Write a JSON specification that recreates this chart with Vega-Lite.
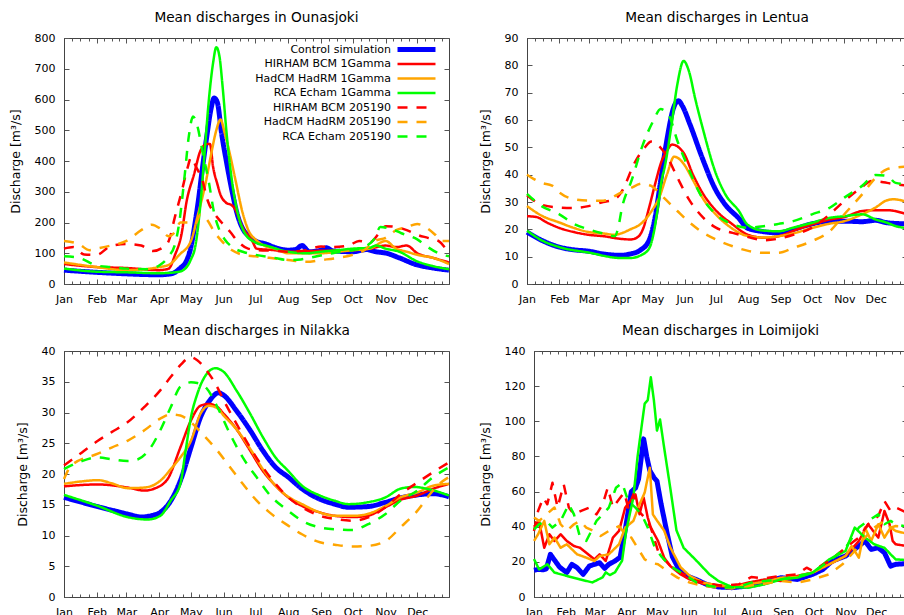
{
"$schema": "https://vega.github.io/schema/vega-lite/v6.json",
"padding": {"left": 8, "top": 10, "right": 0, "bottom": 0},
"background": "white",
"config": {
 "font": "DejaVu Sans",
 "view": {"stroke": "#444", "strokeWidth": 1},
 "axis": {"grid": false, "domainColor": "#444", "tickColor": "#555", "labelFont": "DejaVu Sans", "labelFontSize": 11, "labelColor": "#000", "titleFont": "DejaVu Sans", "titleFontSize": 12.5, "titleFontWeight": "normal", "titleColor": "#000", "titlePadding": 12, "labelOverlap": false, "labelFlush": false},
 "title": {"font": "DejaVu Sans", "fontSize": 13.7, "fontWeight": "normal", "color": "#000", "offset": 7},
 "line": {"strokeJoin": "round"},
 "legend": {"orient": "none", "title": null, "symbolType": "M-6.33,0H6.33", "symbolSize": 36, "labelAlign": "right", "labelOffset": -31, "padding": 0, "rowPadding": 2.5, "gridAlign": "all", "labelFontSize": 11, "labelFont": "DejaVu Sans", "labelColor": "#000"}
},
"datasets": {
"O": [
{"s":"a","d":1,"v":45},{"s":"a","d":32,"v":38},{"s":"a","d":60,"v":33},{"s":"a","d":91,"v":30},{"s":"a","d":100,"v":32},{"s":"a","d":106,"v":38},{"s":"a","d":111,"v":52},{"s":"a","d":116,"v":70},{"s":"a","d":121,"v":120},{"s":"a","d":125,"v":200},{"s":"a","d":128,"v":270},{"s":"a","d":132,"v":380},{"s":"a","d":136,"v":480},{"s":"a","d":140,"v":570},{"s":"a","d":143,"v":605},{"s":"a","d":146,"v":590},{"s":"a","d":150,"v":490},{"s":"a","d":155,"v":390},{"s":"a","d":160,"v":300},{"s":"a","d":165,"v":225},{"s":"a","d":170,"v":180},{"s":"a","d":176,"v":155},{"s":"a","d":182,"v":140},{"s":"a","d":192,"v":130},{"s":"a","d":201,"v":118},{"s":"a","d":213,"v":110},{"s":"a","d":220,"v":112},{"s":"a","d":226,"v":125},{"s":"a","d":233,"v":105},{"s":"a","d":244,"v":110},{"s":"a","d":249,"v":118},{"s":"a","d":255,"v":108},{"s":"a","d":274,"v":105},{"s":"a","d":287,"v":112},{"s":"a","d":296,"v":105},{"s":"a","d":306,"v":100},{"s":"a","d":318,"v":85},{"s":"a","d":334,"v":63},{"s":"a","d":350,"v":52},{"s":"a","d":365,"v":45},
{"s":"b","d":1,"v":65},{"s":"b","d":32,"v":55},{"s":"b","d":60,"v":52},{"s":"b","d":91,"v":45},{"s":"b","d":100,"v":50},{"s":"b","d":106,"v":95},{"s":"b","d":112,"v":160},{"s":"b","d":117,"v":270},{"s":"b","d":124,"v":357},{"s":"b","d":130,"v":433},{"s":"b","d":136,"v":455},{"s":"b","d":139,"v":455},{"s":"b","d":142,"v":380},{"s":"b","d":146,"v":325},{"s":"b","d":149,"v":290},{"s":"b","d":154,"v":265},{"s":"b","d":160,"v":255},{"s":"b","d":163,"v":242},{"s":"b","d":170,"v":183},{"s":"b","d":179,"v":140},{"s":"b","d":183,"v":115},{"s":"b","d":200,"v":110},{"s":"b","d":213,"v":105},{"s":"b","d":244,"v":108},{"s":"b","d":274,"v":110},{"s":"b","d":290,"v":115},{"s":"b","d":305,"v":125},{"s":"b","d":315,"v":120},{"s":"b","d":325,"v":125},{"s":"b","d":335,"v":100},{"s":"b","d":350,"v":85},{"s":"b","d":365,"v":70},
{"s":"c","d":1,"v":70},{"s":"c","d":32,"v":55},{"s":"c","d":60,"v":45},{"s":"c","d":91,"v":55},{"s":"c","d":100,"v":62},{"s":"c","d":110,"v":95},{"s":"c","d":121,"v":140},{"s":"c","d":128,"v":230},{"s":"c","d":135,"v":330},{"s":"c","d":140,"v":420},{"s":"c","d":145,"v":500},{"s":"c","d":149,"v":535},{"s":"c","d":153,"v":490},{"s":"c","d":158,"v":420},{"s":"c","d":163,"v":340},{"s":"c","d":170,"v":230},{"s":"c","d":176,"v":170},{"s":"c","d":182,"v":145},{"s":"c","d":190,"v":125},{"s":"c","d":201,"v":115},{"s":"c","d":213,"v":100},{"s":"c","d":230,"v":100},{"s":"c","d":244,"v":100},{"s":"c","d":260,"v":105},{"s":"c","d":274,"v":110},{"s":"c","d":290,"v":115},{"s":"c","d":305,"v":140},{"s":"c","d":315,"v":115},{"s":"c","d":325,"v":105},{"s":"c","d":335,"v":95},{"s":"c","d":350,"v":85},{"s":"c","d":365,"v":65},
{"s":"d","d":1,"v":50},{"s":"d","d":32,"v":40},{"s":"d","d":60,"v":38},{"s":"d","d":91,"v":35},{"s":"d","d":110,"v":40},{"s":"d","d":118,"v":60},{"s":"d","d":121,"v":80},{"s":"d","d":125,"v":120},{"s":"d","d":130,"v":260},{"s":"d","d":134,"v":430},{"s":"d","d":138,"v":600},{"s":"d","d":142,"v":720},{"s":"d","d":145,"v":770},{"s":"d","d":148,"v":740},{"s":"d","d":151,"v":640},{"s":"d","d":155,"v":480},{"s":"d","d":160,"v":330},{"s":"d","d":166,"v":220},{"s":"d","d":172,"v":165},{"s":"d","d":182,"v":135},{"s":"d","d":192,"v":125},{"s":"d","d":213,"v":105},{"s":"d","d":230,"v":100},{"s":"d","d":244,"v":105},{"s":"d","d":260,"v":110},{"s":"d","d":274,"v":115},{"s":"d","d":290,"v":118},{"s":"d","d":296,"v":125},{"s":"d","d":305,"v":115},{"s":"d","d":318,"v":105},{"s":"d","d":334,"v":75},{"s":"d","d":350,"v":58},{"s":"d","d":365,"v":48},
{"s":"e","d":1,"v":115},{"s":"e","d":10,"v":120},{"s":"e","d":20,"v":96},{"s":"e","d":32,"v":95},{"s":"e","d":45,"v":123},{"s":"e","d":60,"v":130},{"s":"e","d":74,"v":125},{"s":"e","d":85,"v":107},{"s":"e","d":95,"v":120},{"s":"e","d":100,"v":140},{"s":"e","d":106,"v":220},{"s":"e","d":112,"v":297},{"s":"e","d":118,"v":380},{"s":"e","d":121,"v":411},{"s":"e","d":126,"v":380},{"s":"e","d":132,"v":335},{"s":"e","d":137,"v":270},{"s":"e","d":143,"v":230},{"s":"e","d":150,"v":200},{"s":"e","d":158,"v":170},{"s":"e","d":165,"v":140},{"s":"e","d":175,"v":115},{"s":"e","d":185,"v":110},{"s":"e","d":200,"v":108},{"s":"e","d":213,"v":105},{"s":"e","d":230,"v":110},{"s":"e","d":244,"v":122},{"s":"e","d":255,"v":120},{"s":"e","d":270,"v":125},{"s":"e","d":280,"v":140},{"s":"e","d":290,"v":135},{"s":"e","d":300,"v":170},{"s":"e","d":305,"v":188},{"s":"e","d":315,"v":185},{"s":"e","d":325,"v":175},{"s":"e","d":335,"v":160},{"s":"e","d":345,"v":150},{"s":"e","d":355,"v":140},{"s":"e","d":365,"v":100},
{"s":"f","d":1,"v":140},{"s":"f","d":15,"v":130},{"s":"f","d":25,"v":110},{"s":"f","d":32,"v":115},{"s":"f","d":45,"v":125},{"s":"f","d":60,"v":140},{"s":"f","d":74,"v":175},{"s":"f","d":84,"v":193},{"s":"f","d":92,"v":180},{"s":"f","d":100,"v":155},{"s":"f","d":106,"v":170},{"s":"f","d":111,"v":200},{"s":"f","d":118,"v":200},{"s":"f","d":125,"v":195},{"s":"f","d":130,"v":226},{"s":"f","d":136,"v":210},{"s":"f","d":143,"v":170},{"s":"f","d":150,"v":140},{"s":"f","d":160,"v":110},{"s":"f","d":170,"v":95},{"s":"f","d":182,"v":90},{"s":"f","d":195,"v":85},{"s":"f","d":213,"v":78},{"s":"f","d":230,"v":72},{"s":"f","d":244,"v":78},{"s":"f","d":260,"v":85},{"s":"f","d":274,"v":95},{"s":"f","d":285,"v":110},{"s":"f","d":295,"v":140},{"s":"f","d":305,"v":150},{"s":"f","d":315,"v":175},{"s":"f","d":325,"v":185},{"s":"f","d":335,"v":195},{"s":"f","d":345,"v":180},{"s":"f","d":352,"v":160},{"s":"f","d":358,"v":140},{"s":"f","d":365,"v":140},
{"s":"g","d":1,"v":90},{"s":"g","d":15,"v":85},{"s":"g","d":32,"v":60},{"s":"g","d":46,"v":55},{"s":"g","d":60,"v":50},{"s":"g","d":80,"v":48},{"s":"g","d":91,"v":60},{"s":"g","d":100,"v":90},{"s":"g","d":106,"v":130},{"s":"g","d":110,"v":200},{"s":"g","d":115,"v":350},{"s":"g","d":119,"v":480},{"s":"g","d":123,"v":545},{"s":"g","d":127,"v":515},{"s":"g","d":132,"v":430},{"s":"g","d":138,"v":330},{"s":"g","d":143,"v":230},{"s":"g","d":148,"v":175},{"s":"g","d":153,"v":145},{"s":"g","d":160,"v":120},{"s":"g","d":170,"v":105},{"s":"g","d":182,"v":95},{"s":"g","d":200,"v":85},{"s":"g","d":213,"v":78},{"s":"g","d":225,"v":80},{"s":"g","d":240,"v":90},{"s":"g","d":255,"v":100},{"s":"g","d":274,"v":110},{"s":"g","d":285,"v":120},{"s":"g","d":295,"v":150},{"s":"g","d":300,"v":185},{"s":"g","d":310,"v":180},{"s":"g","d":320,"v":165},{"s":"g","d":335,"v":145},{"s":"g","d":345,"v":120},{"s":"g","d":355,"v":100},{"s":"g","d":365,"v":90}
],
"L": [
{"s":"a","d":1,"v":19},{"s":"a","d":15,"v":16},{"s":"a","d":32,"v":13.5},{"s":"a","d":46,"v":12.5},{"s":"a","d":60,"v":12},{"s":"a","d":74,"v":11},{"s":"a","d":91,"v":10.5},{"s":"a","d":100,"v":11},{"s":"a","d":110,"v":12.5},{"s":"a","d":118,"v":16},{"s":"a","d":124,"v":25},{"s":"a","d":128,"v":35},{"s":"a","d":133,"v":48},{"s":"a","d":137,"v":57},{"s":"a","d":141,"v":64},{"s":"a","d":146,"v":67},{"s":"a","d":150,"v":65},{"s":"a","d":157,"v":58.5},{"s":"a","d":169,"v":46},{"s":"a","d":181,"v":35},{"s":"a","d":191,"v":29},{"s":"a","d":204,"v":24},{"s":"a","d":212,"v":20.5},{"s":"a","d":225,"v":19.3},{"s":"a","d":242,"v":18.7},{"s":"a","d":256,"v":20},{"s":"a","d":274,"v":22},{"s":"a","d":291,"v":23},{"s":"a","d":305,"v":23},{"s":"a","d":322,"v":22.8},{"s":"a","d":335,"v":23.3},{"s":"a","d":346,"v":22.4},{"s":"a","d":365,"v":22},
{"s":"b","d":1,"v":24.8},{"s":"b","d":10,"v":24.5},{"s":"b","d":20,"v":22.5},{"s":"b","d":32,"v":20.5},{"s":"b","d":46,"v":19},{"s":"b","d":60,"v":18},{"s":"b","d":74,"v":17.5},{"s":"b","d":91,"v":16.5},{"s":"b","d":100,"v":16.3},{"s":"b","d":105,"v":16.7},{"s":"b","d":112,"v":20},{"s":"b","d":118,"v":28},{"s":"b","d":124,"v":37},{"s":"b","d":130,"v":45},{"s":"b","d":134,"v":48},{"s":"b","d":140,"v":51},{"s":"b","d":151,"v":48},{"s":"b","d":160,"v":40},{"s":"b","d":170,"v":32.8},{"s":"b","d":181,"v":27.3},{"s":"b","d":198,"v":21.8},{"s":"b","d":212,"v":18.1},{"s":"b","d":229,"v":16.9},{"s":"b","d":242,"v":17.5},{"s":"b","d":260,"v":20},{"s":"b","d":274,"v":21.8},{"s":"b","d":291,"v":23.6},{"s":"b","d":305,"v":24.5},{"s":"b","d":322,"v":26.7},{"s":"b","d":335,"v":27},{"s":"b","d":346,"v":27},{"s":"b","d":365,"v":25.5},
{"s":"c","d":1,"v":28.5},{"s":"c","d":15,"v":25},{"s":"c","d":32,"v":22.5},{"s":"c","d":46,"v":20.5},{"s":"c","d":60,"v":19},{"s":"c","d":74,"v":18.5},{"s":"c","d":85,"v":18},{"s":"c","d":91,"v":18.5},{"s":"c","d":100,"v":20},{"s":"c","d":110,"v":22},{"s":"c","d":120,"v":26.5},{"s":"c","d":128,"v":32},{"s":"c","d":135,"v":40},{"s":"c","d":142,"v":46.6},{"s":"c","d":146,"v":46},{"s":"c","d":151,"v":44},{"s":"c","d":160,"v":38},{"s":"c","d":170,"v":31},{"s":"c","d":181,"v":25.8},{"s":"c","d":195,"v":21},{"s":"c","d":212,"v":17.6},{"s":"c","d":228,"v":17},{"s":"c","d":242,"v":17.5},{"s":"c","d":256,"v":18.5},{"s":"c","d":274,"v":20.5},{"s":"c","d":290,"v":22},{"s":"c","d":305,"v":23},{"s":"c","d":322,"v":25.5},{"s":"c","d":335,"v":28},{"s":"c","d":345,"v":30.5},{"s":"c","d":352,"v":31},{"s":"c","d":365,"v":30},
{"s":"d","d":1,"v":19.5},{"s":"d","d":15,"v":16},{"s":"d","d":32,"v":13.5},{"s":"d","d":60,"v":11.5},{"s":"d","d":91,"v":9.5},{"s":"d","d":100,"v":9.5},{"s":"d","d":110,"v":10.5},{"s":"d","d":118,"v":13},{"s":"d","d":122,"v":18},{"s":"d","d":126,"v":27},{"s":"d","d":130,"v":38},{"s":"d","d":133,"v":43},{"s":"d","d":139,"v":57},{"s":"d","d":145,"v":73},{"s":"d","d":151,"v":81.6},{"s":"d","d":156,"v":78},{"s":"d","d":162,"v":68},{"s":"d","d":170,"v":56},{"s":"d","d":181,"v":41.4},{"s":"d","d":191,"v":32.8},{"s":"d","d":204,"v":26.7},{"s":"d","d":212,"v":21.8},{"s":"d","d":226,"v":19.6},{"s":"d","d":242,"v":19.3},{"s":"d","d":256,"v":20.6},{"s":"d","d":274,"v":22.4},{"s":"d","d":291,"v":24.2},{"s":"d","d":305,"v":24.8},{"s":"d","d":322,"v":25.5},{"s":"d","d":335,"v":23.6},{"s":"d","d":346,"v":22.4},{"s":"d","d":354,"v":21.2},{"s":"d","d":365,"v":20.5},
{"s":"e","d":1,"v":32.5},{"s":"e","d":15,"v":29},{"s":"e","d":32,"v":28},{"s":"e","d":46,"v":27.8},{"s":"e","d":60,"v":28.5},{"s":"e","d":74,"v":30},{"s":"e","d":85,"v":31},{"s":"e","d":91,"v":33.4},{"s":"e","d":105,"v":45},{"s":"e","d":114,"v":50},{"s":"e","d":120,"v":52.1},{"s":"e","d":126,"v":51},{"s":"e","d":136,"v":46},{"s":"e","d":145,"v":39},{"s":"e","d":157,"v":30.4},{"s":"e","d":170,"v":24.2},{"s":"e","d":182,"v":20.6},{"s":"e","d":198,"v":18.7},{"s":"e","d":212,"v":17.3},{"s":"e","d":229,"v":16},{"s":"e","d":242,"v":16.6},{"s":"e","d":256,"v":18},{"s":"e","d":274,"v":20.6},{"s":"e","d":291,"v":25.5},{"s":"e","d":305,"v":30.4},{"s":"e","d":322,"v":35.5},{"s":"e","d":331,"v":37.7},{"s":"e","d":346,"v":37},{"s":"e","d":354,"v":36.5},{"s":"e","d":365,"v":36},
{"s":"f","d":1,"v":40},{"s":"f","d":15,"v":37},{"s":"f","d":25,"v":36},{"s":"f","d":32,"v":33.5},{"s":"f","d":46,"v":31},{"s":"f","d":60,"v":30.5},{"s":"f","d":74,"v":30.5},{"s":"f","d":91,"v":33.4},{"s":"f","d":100,"v":35},{"s":"f","d":111,"v":36.7},{"s":"f","d":120,"v":35.9},{"s":"f","d":132,"v":31.6},{"s":"f","d":145,"v":26.7},{"s":"f","d":157,"v":22.4},{"s":"f","d":170,"v":18.7},{"s":"f","d":182,"v":16.3},{"s":"f","d":198,"v":13.8},{"s":"f","d":212,"v":12.2},{"s":"f","d":229,"v":11.4},{"s":"f","d":242,"v":11.4},{"s":"f","d":256,"v":13.2},{"s":"f","d":274,"v":15.7},{"s":"f","d":291,"v":19.3},{"s":"f","d":305,"v":25.5},{"s":"f","d":322,"v":32.8},{"s":"f","d":335,"v":38.9},{"s":"f","d":346,"v":42},{"s":"f","d":354,"v":42.6},{"s":"f","d":365,"v":43},
{"s":"g","d":1,"v":33},{"s":"g","d":15,"v":28.5},{"s":"g","d":32,"v":25.5},{"s":"g","d":46,"v":22},{"s":"g","d":60,"v":20},{"s":"g","d":74,"v":18.5},{"s":"g","d":85,"v":17.5},{"s":"g","d":88,"v":20},{"s":"g","d":92,"v":27.9},{"s":"g","d":101,"v":37.7},{"s":"g","d":112,"v":51},{"s":"g","d":122,"v":59.7},{"s":"g","d":129,"v":64},{"s":"g","d":137,"v":61.6},{"s":"g","d":145,"v":52.4},{"s":"g","d":154,"v":43.8},{"s":"g","d":167,"v":32.8},{"s":"g","d":182,"v":25.5},{"s":"g","d":198,"v":21.8},{"s":"g","d":212,"v":20.6},{"s":"g","d":229,"v":21.2},{"s":"g","d":242,"v":22},{"s":"g","d":256,"v":23},{"s":"g","d":274,"v":25.5},{"s":"g","d":291,"v":27.9},{"s":"g","d":305,"v":31.6},{"s":"g","d":322,"v":35.9},{"s":"g","d":335,"v":39.9},{"s":"g","d":346,"v":39.5},{"s":"g","d":354,"v":37},{"s":"g","d":365,"v":36.5}
],
"N": [
{"s":"a","d":1,"v":16.2},{"s":"a","d":33,"v":14.7},{"s":"a","d":61,"v":13.5},{"s":"a","d":74,"v":13},{"s":"a","d":83,"v":13.2},{"s":"a","d":92,"v":13.75},{"s":"a","d":102,"v":15.65},{"s":"a","d":111,"v":18.9},{"s":"a","d":121,"v":24.3},{"s":"a","d":130,"v":29.2},{"s":"a","d":139,"v":32},{"s":"a","d":147,"v":33.2},{"s":"a","d":152,"v":32.8},{"s":"a","d":164,"v":30.3},{"s":"a","d":177,"v":27.1},{"s":"a","d":189,"v":23.8},{"s":"a","d":201,"v":21.1},{"s":"a","d":213,"v":19.5},{"s":"a","d":226,"v":17.6},{"s":"a","d":243,"v":15.9},{"s":"a","d":257,"v":15.1},{"s":"a","d":270,"v":14.6},{"s":"a","d":288,"v":14.7},{"s":"a","d":305,"v":15.4},{"s":"a","d":319,"v":16.1},{"s":"a","d":335,"v":16.6},{"s":"a","d":350,"v":16.8},{"s":"a","d":365,"v":16.3},
{"s":"b","d":1,"v":18},{"s":"b","d":33,"v":18.3},{"s":"b","d":61,"v":17.8},{"s":"b","d":77,"v":17.3},{"s":"b","d":86,"v":17.6},{"s":"b","d":99,"v":19.2},{"s":"b","d":111,"v":24.3},{"s":"b","d":121,"v":28.7},{"s":"b","d":130,"v":31.1},{"s":"b","d":138,"v":31.4},{"s":"b","d":146,"v":30.9},{"s":"b","d":152,"v":29.8},{"s":"b","d":164,"v":27.3},{"s":"b","d":177,"v":23.8},{"s":"b","d":189,"v":20.5},{"s":"b","d":201,"v":18.1},{"s":"b","d":213,"v":16.2},{"s":"b","d":226,"v":14.8},{"s":"b","d":243,"v":13.75},{"s":"b","d":257,"v":13.2},{"s":"b","d":274,"v":13},{"s":"b","d":288,"v":13.2},{"s":"b","d":305,"v":14.6},{"s":"b","d":319,"v":15.8},{"s":"b","d":335,"v":16.5},{"s":"b","d":350,"v":17.6},{"s":"b","d":365,"v":18.4},
{"s":"c","d":1,"v":18.4},{"s":"c","d":18,"v":18.8},{"s":"c","d":33,"v":19},{"s":"c","d":46,"v":18.5},{"s":"c","d":61,"v":17.7},{"s":"c","d":77,"v":17.8},{"s":"c","d":92,"v":18.9},{"s":"c","d":102,"v":20.8},{"s":"c","d":111,"v":22.7},{"s":"c","d":121,"v":25.4},{"s":"c","d":130,"v":29.8},{"s":"c","d":138,"v":31.1},{"s":"c","d":146,"v":30.7},{"s":"c","d":152,"v":29.5},{"s":"c","d":164,"v":27.3},{"s":"c","d":177,"v":24.1},{"s":"c","d":189,"v":20.8},{"s":"c","d":201,"v":18.1},{"s":"c","d":213,"v":16.3},{"s":"c","d":226,"v":15.1},{"s":"c","d":243,"v":13.75},{"s":"c","d":257,"v":13.2},{"s":"c","d":274,"v":13.2},{"s":"c","d":288,"v":13.5},{"s":"c","d":305,"v":14.8},{"s":"c","d":319,"v":16.2},{"s":"c","d":335,"v":17},{"s":"c","d":350,"v":18.1},{"s":"c","d":365,"v":18.4},
{"s":"d","d":1,"v":16.6},{"s":"d","d":33,"v":14.8},{"s":"d","d":61,"v":13},{"s":"d","d":80,"v":12.6},{"s":"d","d":92,"v":13.2},{"s":"d","d":102,"v":15.7},{"s":"d","d":111,"v":18.4},{"s":"d","d":116,"v":23.8},{"s":"d","d":121,"v":29.2},{"s":"d","d":127,"v":33},{"s":"d","d":133,"v":35.5},{"s":"d","d":144,"v":37.2},{"s":"d","d":152,"v":36.6},{"s":"d","d":164,"v":33.6},{"s":"d","d":177,"v":29.8},{"s":"d","d":189,"v":26},{"s":"d","d":201,"v":22.7},{"s":"d","d":213,"v":20.5},{"s":"d","d":226,"v":18.1},{"s":"d","d":243,"v":16.5},{"s":"d","d":257,"v":15.65},{"s":"d","d":270,"v":15.1},{"s":"d","d":288,"v":15.4},{"s":"d","d":305,"v":16.2},{"s":"d","d":319,"v":17.6},{"s":"d","d":332,"v":17.9},{"s":"d","d":344,"v":17.6},{"s":"d","d":365,"v":16.5},
{"s":"e","d":1,"v":21.4},{"s":"e","d":18,"v":23.5},{"s":"e","d":33,"v":25.4},{"s":"e","d":46,"v":26.8},{"s":"e","d":61,"v":28.4},{"s":"e","d":77,"v":30.9},{"s":"e","d":92,"v":33.6},{"s":"e","d":102,"v":35.8},{"s":"e","d":111,"v":37.7},{"s":"e","d":121,"v":39},{"s":"e","d":127,"v":38.5},{"s":"e","d":136,"v":36.8},{"s":"e","d":146,"v":34.1},{"s":"e","d":152,"v":32},{"s":"e","d":164,"v":28.2},{"s":"e","d":177,"v":24.3},{"s":"e","d":189,"v":21.1},{"s":"e","d":201,"v":18.4},{"s":"e","d":213,"v":16.2},{"s":"e","d":226,"v":14.6},{"s":"e","d":243,"v":13.2},{"s":"e","d":257,"v":12.7},{"s":"e","d":274,"v":12.4},{"s":"e","d":288,"v":12.9},{"s":"e","d":305,"v":14.6},{"s":"e","d":319,"v":16.7},{"s":"e","d":335,"v":18.6},{"s":"e","d":350,"v":20.3},{"s":"e","d":365,"v":21.9},
{"s":"f","d":1,"v":19.2},{"s":"f","d":8,"v":21.4},{"s":"f","d":33,"v":23.3},{"s":"f","d":46,"v":24.3},{"s":"f","d":61,"v":25.4},{"s":"f","d":77,"v":27.1},{"s":"f","d":92,"v":29},{"s":"f","d":102,"v":29.7},{"s":"f","d":111,"v":29.5},{"s":"f","d":121,"v":28.4},{"s":"f","d":133,"v":26.3},{"s":"f","d":146,"v":23.8},{"s":"f","d":158,"v":21.1},{"s":"f","d":170,"v":18.4},{"s":"f","d":183,"v":15.7},{"s":"f","d":195,"v":13.8},{"s":"f","d":213,"v":11.6},{"s":"f","d":226,"v":10.2},{"s":"f","d":243,"v":8.9},{"s":"f","d":257,"v":8.5},{"s":"f","d":274,"v":8.2},{"s":"f","d":288,"v":8.3},{"s":"f","d":305,"v":9.1},{"s":"f","d":319,"v":11.3},{"s":"f","d":335,"v":14},{"s":"f","d":347,"v":16.7},{"s":"f","d":356,"v":18.4},{"s":"f","d":365,"v":19.5},
{"s":"g","d":1,"v":20.8},{"s":"g","d":18,"v":22.1},{"s":"g","d":33,"v":22.7},{"s":"g","d":46,"v":22.4},{"s":"g","d":61,"v":22.1},{"s":"g","d":71,"v":22.4},{"s":"g","d":83,"v":24.3},{"s":"g","d":92,"v":27.1},{"s":"g","d":102,"v":30.9},{"s":"g","d":111,"v":34.2},{"s":"g","d":121,"v":34.9},{"s":"g","d":127,"v":34.8},{"s":"g","d":136,"v":33.9},{"s":"g","d":146,"v":30.9},{"s":"g","d":158,"v":26.5},{"s":"g","d":170,"v":22.7},{"s":"g","d":183,"v":19.5},{"s":"g","d":195,"v":16.7},{"s":"g","d":213,"v":14},{"s":"g","d":226,"v":12.4},{"s":"g","d":243,"v":11.3},{"s":"g","d":257,"v":11},{"s":"g","d":274,"v":10.9},{"s":"g","d":288,"v":11.8},{"s":"g","d":305,"v":13.5},{"s":"g","d":319,"v":15.65},{"s":"g","d":335,"v":17.3},{"s":"g","d":350,"v":19.5},{"s":"g","d":365,"v":21.1}
],
"M": [
{"s":"a","d":1,"v":15.2},{"s":"a","d":5,"v":15.7},{"s":"a","d":10,"v":15.5},{"s":"a","d":13,"v":16},{"s":"a","d":17,"v":24.3},{"s":"a","d":21,"v":21},{"s":"a","d":26,"v":17},{"s":"a","d":33,"v":13.9},{"s":"a","d":38,"v":18.6},{"s":"a","d":43,"v":16.7},{"s":"a","d":49,"v":12.9},{"s":"a","d":55,"v":17.6},{"s":"a","d":60,"v":18.6},{"s":"a","d":65,"v":19.5},{"s":"a","d":70,"v":16.3},{"s":"a","d":74,"v":18.6},{"s":"a","d":80,"v":20.5},{"s":"a","d":85,"v":22.6},{"s":"a","d":90,"v":38},{"s":"a","d":96,"v":60},{"s":"a","d":100,"v":62},{"s":"a","d":103,"v":67},{"s":"a","d":108,"v":90},{"s":"a","d":111,"v":80},{"s":"a","d":114,"v":72},{"s":"a","d":118,"v":68},{"s":"a","d":121,"v":66},{"s":"a","d":125,"v":53},{"s":"a","d":131,"v":36},{"s":"a","d":136,"v":23},{"s":"a","d":143,"v":15},{"s":"a","d":150,"v":12},{"s":"a","d":159,"v":10},{"s":"a","d":170,"v":7},{"s":"a","d":181,"v":5.7},{"s":"a","d":194,"v":5.3},{"s":"a","d":210,"v":6.3},{"s":"a","d":226,"v":8.2},{"s":"a","d":242,"v":11},{"s":"a","d":258,"v":10},{"s":"a","d":273,"v":12.9},{"s":"a","d":283,"v":15.7},{"s":"a","d":292,"v":20.5},{"s":"a","d":305,"v":23.3},{"s":"a","d":318,"v":29},{"s":"a","d":324,"v":31.9},{"s":"a","d":330,"v":27.1},{"s":"a","d":337,"v":28},{"s":"a","d":343,"v":25.2},{"s":"a","d":349,"v":17.6},{"s":"a","d":354,"v":18.6},{"s":"a","d":365,"v":19},
{"s":"b","d":1,"v":40},{"s":"b","d":6,"v":43},{"s":"b","d":11,"v":28},{"s":"b","d":16,"v":35.7},{"s":"b","d":21,"v":31.9},{"s":"b","d":27,"v":35.7},{"s":"b","d":33,"v":31.9},{"s":"b","d":40,"v":29},{"s":"b","d":46,"v":28},{"s":"b","d":52,"v":25.2},{"s":"b","d":60,"v":21.4},{"s":"b","d":65,"v":24.3},{"s":"b","d":71,"v":20.5},{"s":"b","d":78,"v":33.8},{"s":"b","d":84,"v":37.6},{"s":"b","d":90,"v":50.9},{"s":"b","d":95,"v":54.6},{"s":"b","d":100,"v":58.4},{"s":"b","d":104,"v":47.1},{"s":"b","d":108,"v":56.5},{"s":"b","d":112,"v":45.2},{"s":"b","d":115,"v":39.5},{"s":"b","d":122,"v":31.9},{"s":"b","d":128,"v":22.4},{"s":"b","d":134,"v":17.6},{"s":"b","d":144,"v":12.9},{"s":"b","d":153,"v":10},{"s":"b","d":166,"v":7.6},{"s":"b","d":179,"v":6.3},{"s":"b","d":194,"v":5.7},{"s":"b","d":210,"v":8.2},{"s":"b","d":226,"v":10},{"s":"b","d":242,"v":9.1},{"s":"b","d":258,"v":12},{"s":"b","d":273,"v":13.9},{"s":"b","d":289,"v":18.6},{"s":"b","d":305,"v":23.3},{"s":"b","d":318,"v":31.9},{"s":"b","d":327,"v":41.4},{"s":"b","d":337,"v":33.8},{"s":"b","d":343,"v":49},{"s":"b","d":348,"v":41.4},{"s":"b","d":351,"v":31.9},{"s":"b","d":354,"v":30},{"s":"b","d":365,"v":29},
{"s":"c","d":1,"v":31.9},{"s":"c","d":5,"v":35.7},{"s":"c","d":11,"v":43.3},{"s":"c","d":16,"v":30},{"s":"c","d":21,"v":33.8},{"s":"c","d":27,"v":28},{"s":"c","d":33,"v":30},{"s":"c","d":43,"v":24.3},{"s":"c","d":52,"v":22.4},{"s":"c","d":60,"v":20.5},{"s":"c","d":65,"v":23.3},{"s":"c","d":74,"v":24.3},{"s":"c","d":84,"v":30},{"s":"c","d":90,"v":39.5},{"s":"c","d":98,"v":43.3},{"s":"c","d":104,"v":52.8},{"s":"c","d":109,"v":59.4},{"s":"c","d":114,"v":73.6},{"s":"c","d":117,"v":47},{"s":"c","d":121,"v":43.5},{"s":"c","d":128,"v":37.8},{"s":"c","d":134,"v":28.3},{"s":"c","d":144,"v":17},{"s":"c","d":153,"v":12},{"s":"c","d":166,"v":8.2},{"s":"c","d":179,"v":6.8},{"s":"c","d":194,"v":6.1},{"s":"c","d":210,"v":7.2},{"s":"c","d":226,"v":8.7},{"s":"c","d":242,"v":11},{"s":"c","d":258,"v":11.4},{"s":"c","d":273,"v":13.9},{"s":"c","d":289,"v":18.6},{"s":"c","d":305,"v":23.3},{"s":"c","d":311,"v":29},{"s":"c","d":318,"v":22.4},{"s":"c","d":324,"v":39.5},{"s":"c","d":330,"v":31.9},{"s":"c","d":337,"v":41.4},{"s":"c","d":343,"v":33.8},{"s":"c","d":349,"v":39.5},{"s":"c","d":354,"v":37.6},{"s":"c","d":365,"v":36},
{"s":"d","d":1,"v":21.6},{"s":"d","d":6,"v":15.7},{"s":"d","d":11,"v":17.5},{"s":"d","d":14,"v":18.6},{"s":"d","d":21,"v":13.9},{"s":"d","d":33,"v":12},{"s":"d","d":46,"v":10},{"s":"d","d":58,"v":8.3},{"s":"d","d":68,"v":11.2},{"s":"d","d":71,"v":14},{"s":"d","d":75,"v":12.5},{"s":"d","d":80,"v":14},{"s":"d","d":87,"v":20.7},{"s":"d","d":91,"v":37.8},{"s":"d","d":98,"v":56.7},{"s":"d","d":102,"v":79.5},{"s":"d","d":106,"v":97},{"s":"d","d":109,"v":110},{"s":"d","d":112,"v":112},{"s":"d","d":115,"v":125},{"s":"d","d":118,"v":112},{"s":"d","d":121,"v":94.7},{"s":"d","d":124,"v":101},{"s":"d","d":128,"v":85},{"s":"d","d":134,"v":62},{"s":"d","d":140,"v":38},{"s":"d","d":147,"v":28},{"s":"d","d":159,"v":21},{"s":"d","d":172,"v":13},{"s":"d","d":181,"v":9.1},{"s":"d","d":194,"v":5.7},{"s":"d","d":210,"v":5.3},{"s":"d","d":226,"v":7.2},{"s":"d","d":242,"v":10},{"s":"d","d":258,"v":11},{"s":"d","d":273,"v":13.9},{"s":"d","d":289,"v":21.4},{"s":"d","d":305,"v":26.2},{"s":"d","d":314,"v":39.5},{"s":"d","d":324,"v":33.8},{"s":"d","d":333,"v":30},{"s":"d","d":343,"v":28},{"s":"d","d":349,"v":24.3},{"s":"d","d":354,"v":21.4},{"s":"d","d":365,"v":21},
{"s":"e","d":1,"v":37.6},{"s":"e","d":5,"v":49},{"s":"e","d":10,"v":56.5},{"s":"e","d":14,"v":52.8},{"s":"e","d":19,"v":65},{"s":"e","d":24,"v":50.9},{"s":"e","d":30,"v":64.1},{"s":"e","d":35,"v":50.9},{"s":"e","d":40,"v":47},{"s":"e","d":47,"v":49},{"s":"e","d":55,"v":50.9},{"s":"e","d":62,"v":47},{"s":"e","d":68,"v":52.8},{"s":"e","d":73,"v":62.2},{"s":"e","d":78,"v":50.9},{"s":"e","d":84,"v":55.6},{"s":"e","d":89,"v":59.4},{"s":"e","d":93,"v":50.9},{"s":"e","d":98,"v":58.4},{"s":"e","d":103,"v":49},{"s":"e","d":109,"v":45.2},{"s":"e","d":115,"v":39.5},{"s":"e","d":122,"v":26.2},{"s":"e","d":128,"v":21.4},{"s":"e","d":136,"v":16.7},{"s":"e","d":147,"v":12.9},{"s":"e","d":160,"v":9.1},{"s":"e","d":172,"v":7.6},{"s":"e","d":185,"v":6.3},{"s":"e","d":201,"v":7.2},{"s":"e","d":213,"v":11.4},{"s":"e","d":226,"v":10.6},{"s":"e","d":242,"v":12},{"s":"e","d":258,"v":12.9},{"s":"e","d":267,"v":16.7},{"s":"e","d":273,"v":14.8},{"s":"e","d":289,"v":20.5},{"s":"e","d":305,"v":28},{"s":"e","d":318,"v":33.8},{"s":"e","d":327,"v":41.4},{"s":"e","d":337,"v":46.1},{"s":"e","d":343,"v":54.6},{"s":"e","d":349,"v":49},{"s":"e","d":354,"v":50.9},{"s":"e","d":365,"v":48},
{"s":"f","d":1,"v":45.2},{"s":"f","d":6,"v":43.3},{"s":"f","d":13,"v":47},{"s":"f","d":21,"v":50.9},{"s":"f","d":27,"v":41.4},{"s":"f","d":33,"v":37.6},{"s":"f","d":40,"v":41.4},{"s":"f","d":46,"v":43.3},{"s":"f","d":52,"v":39.5},{"s":"f","d":59,"v":37.6},{"s":"f","d":66,"v":34.7},{"s":"f","d":74,"v":37.6},{"s":"f","d":84,"v":40.4},{"s":"f","d":90,"v":35.7},{"s":"f","d":96,"v":33.8},{"s":"f","d":103,"v":27.1},{"s":"f","d":109,"v":21.4},{"s":"f","d":115,"v":19.5},{"s":"f","d":122,"v":18.6},{"s":"f","d":131,"v":14.8},{"s":"f","d":141,"v":11},{"s":"f","d":153,"v":8.2},{"s":"f","d":166,"v":6.3},{"s":"f","d":181,"v":5.3},{"s":"f","d":194,"v":4.9},{"s":"f","d":210,"v":6.3},{"s":"f","d":226,"v":7.6},{"s":"f","d":242,"v":9.1},{"s":"f","d":258,"v":8.2},{"s":"f","d":273,"v":10},{"s":"f","d":289,"v":12.9},{"s":"f","d":302,"v":18.6},{"s":"f","d":314,"v":26.2},{"s":"f","d":324,"v":33.8},{"s":"f","d":333,"v":39.5},{"s":"f","d":343,"v":43.3},{"s":"f","d":349,"v":39.5},{"s":"f","d":354,"v":40.4},{"s":"f","d":365,"v":40},
{"s":"g","d":1,"v":38.5},{"s":"g","d":6,"v":41.4},{"s":"g","d":13,"v":43.3},{"s":"g","d":19,"v":39.5},{"s":"g","d":27,"v":43.3},{"s":"g","d":35,"v":52.8},{"s":"g","d":40,"v":47},{"s":"g","d":46,"v":33.8},{"s":"g","d":52,"v":31.9},{"s":"g","d":62,"v":43.3},{"s":"g","d":68,"v":47},{"s":"g","d":74,"v":50.9},{"s":"g","d":81,"v":62.2},{"s":"g","d":87,"v":65},{"s":"g","d":93,"v":54.6},{"s":"g","d":100,"v":50.9},{"s":"g","d":106,"v":47},{"s":"g","d":112,"v":39.5},{"s":"g","d":119,"v":28},{"s":"g","d":125,"v":23.3},{"s":"g","d":134,"v":17.6},{"s":"g","d":147,"v":12.9},{"s":"g","d":160,"v":8.2},{"s":"g","d":172,"v":6.3},{"s":"g","d":185,"v":5.3},{"s":"g","d":201,"v":5.7},{"s":"g","d":213,"v":8.2},{"s":"g","d":226,"v":9.1},{"s":"g","d":242,"v":10},{"s":"g","d":258,"v":12},{"s":"g","d":273,"v":13.9},{"s":"g","d":289,"v":20.5},{"s":"g","d":305,"v":28},{"s":"g","d":318,"v":39.5},{"s":"g","d":327,"v":43.3},{"s":"g","d":337,"v":47},{"s":"g","d":343,"v":41.4},{"s":"g","d":349,"v":43.3},{"s":"g","d":354,"v":41.4},{"s":"g","d":365,"v":40}
]
},
"columns": 2,
"align": "none",
"spacing": {"row": 16, "column": 25},
"concat": [
 {"width": 385, "height": 246, "title": "Mean discharges in Ounasjoki", "data": {"name": "O"},
  "layer": [
   {"mark": {"type": "line", "interpolate": "monotone", "strokeJoin": "round"},
    "encoding": {
     "x": {"field": "d", "type": "quantitative", "scale": {"domain": [1, 365], "nice": false, "zero": false}, "axis": {"title": null, "values": [1,8.75,16.5,24.25,32,39,46,53,60,67.75,75.5,83.25,91,98.5,106,113.5,121,128.75,136.5,144.25,152,159.5,167,174.5,182,189.75,197.5,205.25,213,220.75,228.5,236.25,244,251.5,259,266.5,274,281.75,289.5,297.25,305,312.5,320,327.5,335,342.75,350.5,358.25], "labelExpr": "{'1':'Jan','32':'Feb','60':'Mar','91':'Apr','121':'May','152':'Jun','182':'Jul','213':'Aug','244':'Sep','274':'Oct','305':'Nov','335':'Dec'}[datum.value] || ''", "labelPadding": 14, "tickSize": {"condition": {"test": "indexof([1,32,60,91,121,152,182,213,244,274,305,335], datum.value) >= 0", "value": -5}, "value": -3}}},
     "y": {"field": "v", "type": "quantitative", "scale": {"domain": [0, 800], "nice": false}, "axis": {"title": "Discharge [m³/s]", "values": [0,100,200,300,400,500,600,700,800], "tickSize": -5, "labelPadding": 14}},
     "color": {"field": "s", "type": "nominal", "scale": {"domain": ["a","b","c","d","e","f","g"], "range": ["#0000ff","#ff0000","#ffa500","#00ff00","#ff0000","#ffa500","#00ff00"]}, "legend": {"legendX": 347, "legendY": 6, "labelExpr": "{'a':'Control simulation','b':'HIRHAM BCM 1Gamma','c':'HadCM HadRM 1Gamma','d':'RCA Echam 1Gamma','e':'HIRHAM BCM 205190','f':'HadCM HadRM 205190','g':'RCA Echam 205190'}[datum.label]"}},
     "strokeDash": {"field": "s", "type": "nominal", "scale": {"domain": ["a","b","c","d","e","f","g"], "range": [[1,0],[1,0],[1,0],[1,0],[10,9],[10,9],[10,9]]}, "legend": {"legendX": 347, "legendY": 6, "labelExpr": "{'a':'Control simulation','b':'HIRHAM BCM 1Gamma','c':'HadCM HadRM 1Gamma','d':'RCA Echam 1Gamma','e':'HIRHAM BCM 205190','f':'HadCM HadRM 205190','g':'RCA Echam 205190'}[datum.label]"}},
     "strokeWidth": {"field": "s", "type": "nominal", "scale": {"type": "ordinal", "domain": ["a","b","c","d","e","f","g"], "range": [5,2.5,2.5,2.5,2.5,2.5,2.5]}, "legend": {"legendX": 347, "legendY": 6, "labelExpr": "{'a':'Control simulation','b':'HIRHAM BCM 1Gamma','c':'HadCM HadRM 1Gamma','d':'RCA Echam 1Gamma','e':'HIRHAM BCM 205190','f':'HadCM HadRM 205190','g':'RCA Echam 205190'}[datum.label]"}}
    }},
   {"mark": {"type": "point", "opacity": 0},
    "encoding": {
     "x": {"field": "d", "type": "quantitative", "axis": {"orient": "top", "title": null, "labels": false, "domain": false, "labelPadding": 0, "values": [1,8.75,16.5,24.25,32,39,46,53,60,67.75,75.5,83.25,91,98.5,106,113.5,121,128.75,136.5,144.25,152,159.5,167,174.5,182,189.75,197.5,205.25,213,220.75,228.5,236.25,244,251.5,259,266.5,274,281.75,289.5,297.25,305,312.5,320,327.5,335,342.75,350.5,358.25], "tickSize": {"condition": {"test": "indexof([1,32,60,91,121,152,182,213,244,274,305,335], datum.value) >= 0", "value": -5}, "value": -3}}},
     "y": {"field": "v", "type": "quantitative", "axis": {"orient": "right", "title": null, "labels": false, "domain": false, "labelPadding": 0, "values": [0,100,200,300,400,500,600,700,800], "tickSize": -5}}
    }}
  ],
  "resolve": {"axis": {"x": "independent", "y": "independent"}}},
 {"width": 380, "height": 246, "title": "Mean discharges in Lentua", "data": {"name": "L"},
  "layer": [
   {"mark": {"type": "line", "interpolate": "monotone", "strokeJoin": "round"},
    "encoding": {
     "x": {"field": "d", "type": "quantitative", "scale": {"domain": [1, 365], "nice": false, "zero": false}, "axis": {"title": null, "values": [1,8.75,16.5,24.25,32,39,46,53,60,67.75,75.5,83.25,91,98.5,106,113.5,121,128.75,136.5,144.25,152,159.5,167,174.5,182,189.75,197.5,205.25,213,220.75,228.5,236.25,244,251.5,259,266.5,274,281.75,289.5,297.25,305,312.5,320,327.5,335,342.75,350.5,358.25], "labelExpr": "{'1':'Jan','32':'Feb','60':'Mar','91':'Apr','121':'May','152':'Jun','182':'Jul','213':'Aug','244':'Sep','274':'Oct','305':'Nov','335':'Dec'}[datum.value] || ''", "labelPadding": 14, "tickSize": {"condition": {"test": "indexof([1,32,60,91,121,152,182,213,244,274,305,335], datum.value) >= 0", "value": -5}, "value": -3}}},
     "y": {"field": "v", "type": "quantitative", "scale": {"domain": [0, 90], "nice": false}, "axis": {"title": "Discharge [m³/s]", "values": [0,10,20,30,40,50,60,70,80,90], "tickSize": -5, "labelPadding": 14}},
     "color": {"field": "s", "type": "nominal", "scale": {"domain": ["a","b","c","d","e","f","g"], "range": ["#0000ff","#ff0000","#ffa500","#00ff00","#ff0000","#ffa500","#00ff00"]}, "legend": {"legendX": 352, "legendY": 6, "labelExpr": "{'a':'Control simulation','b':'HIRHAM BCM 1Gamma','c':'HadCM HadRM 1Gamma','d':'RCA Echam 1Gamma','e':'HIRHAM BCM 205190','f':'HadCM HadRM 205190','g':'RCA Echam 205190'}[datum.label]"}},
     "strokeDash": {"field": "s", "type": "nominal", "scale": {"domain": ["a","b","c","d","e","f","g"], "range": [[1,0],[1,0],[1,0],[1,0],[10,9],[10,9],[10,9]]}, "legend": {"legendX": 352, "legendY": 6, "labelExpr": "{'a':'Control simulation','b':'HIRHAM BCM 1Gamma','c':'HadCM HadRM 1Gamma','d':'RCA Echam 1Gamma','e':'HIRHAM BCM 205190','f':'HadCM HadRM 205190','g':'RCA Echam 205190'}[datum.label]"}},
     "strokeWidth": {"field": "s", "type": "nominal", "scale": {"type": "ordinal", "domain": ["a","b","c","d","e","f","g"], "range": [5,2.5,2.5,2.5,2.5,2.5,2.5]}, "legend": {"legendX": 352, "legendY": 6, "labelExpr": "{'a':'Control simulation','b':'HIRHAM BCM 1Gamma','c':'HadCM HadRM 1Gamma','d':'RCA Echam 1Gamma','e':'HIRHAM BCM 205190','f':'HadCM HadRM 205190','g':'RCA Echam 205190'}[datum.label]"}}
    }},
   {"mark": {"type": "point", "opacity": 0},
    "encoding": {
     "x": {"field": "d", "type": "quantitative", "axis": {"orient": "top", "title": null, "labels": false, "domain": false, "labelPadding": 0, "values": [1,8.75,16.5,24.25,32,39,46,53,60,67.75,75.5,83.25,91,98.5,106,113.5,121,128.75,136.5,144.25,152,159.5,167,174.5,182,189.75,197.5,205.25,213,220.75,228.5,236.25,244,251.5,259,266.5,274,281.75,289.5,297.25,305,312.5,320,327.5,335,342.75,350.5,358.25], "tickSize": {"condition": {"test": "indexof([1,32,60,91,121,152,182,213,244,274,305,335], datum.value) >= 0", "value": -5}, "value": -3}}},
     "y": {"field": "v", "type": "quantitative", "axis": {"orient": "right", "title": null, "labels": false, "domain": false, "labelPadding": 0, "values": [0,10,20,30,40,50,60,70,80,90], "tickSize": -5}}
    }}
  ],
  "resolve": {"axis": {"x": "independent", "y": "independent"}}},
 {"width": 385, "height": 246, "title": "Mean discharges in Nilakka", "data": {"name": "N"},
  "layer": [
   {"mark": {"type": "line", "interpolate": "monotone", "strokeJoin": "round"},
    "encoding": {
     "x": {"field": "d", "type": "quantitative", "scale": {"domain": [1, 365], "nice": false, "zero": false}, "axis": {"title": null, "values": [1,8.75,16.5,24.25,32,39,46,53,60,67.75,75.5,83.25,91,98.5,106,113.5,121,128.75,136.5,144.25,152,159.5,167,174.5,182,189.75,197.5,205.25,213,220.75,228.5,236.25,244,251.5,259,266.5,274,281.75,289.5,297.25,305,312.5,320,327.5,335,342.75,350.5,358.25], "labelExpr": "{'1':'Jan','32':'Feb','60':'Mar','91':'Apr','121':'May','152':'Jun','182':'Jul','213':'Aug','244':'Sep','274':'Oct','305':'Nov','335':'Dec'}[datum.value] || ''", "labelPadding": 14, "tickSize": {"condition": {"test": "indexof([1,32,60,91,121,152,182,213,244,274,305,335], datum.value) >= 0", "value": -5}, "value": -3}}},
     "y": {"field": "v", "type": "quantitative", "scale": {"domain": [0, 40], "nice": false}, "axis": {"title": "Discharge [m³/s]", "values": [0,5,10,15,20,25,30,35,40], "tickSize": -5, "labelPadding": 14}},
     "color": {"field": "s", "type": "nominal", "scale": {"domain": ["a","b","c","d","e","f","g"], "range": ["#0000ff","#ff0000","#ffa500","#00ff00","#ff0000","#ffa500","#00ff00"]}, "legend": {"legendX": 347, "legendY": 6, "labelExpr": "{'a':'Control simulation','b':'HIRHAM BCM 1Gamma','c':'HadCM HadRM 1Gamma','d':'RCA Echam 1Gamma','e':'HIRHAM BCM 205190','f':'HadCM HadRM 205190','g':'RCA Echam 205190'}[datum.label]"}},
     "strokeDash": {"field": "s", "type": "nominal", "scale": {"domain": ["a","b","c","d","e","f","g"], "range": [[1,0],[1,0],[1,0],[1,0],[10,9],[10,9],[10,9]]}, "legend": {"legendX": 347, "legendY": 6, "labelExpr": "{'a':'Control simulation','b':'HIRHAM BCM 1Gamma','c':'HadCM HadRM 1Gamma','d':'RCA Echam 1Gamma','e':'HIRHAM BCM 205190','f':'HadCM HadRM 205190','g':'RCA Echam 205190'}[datum.label]"}},
     "strokeWidth": {"field": "s", "type": "nominal", "scale": {"type": "ordinal", "domain": ["a","b","c","d","e","f","g"], "range": [5,2.5,2.5,2.5,2.5,2.5,2.5]}, "legend": {"legendX": 347, "legendY": 6, "labelExpr": "{'a':'Control simulation','b':'HIRHAM BCM 1Gamma','c':'HadCM HadRM 1Gamma','d':'RCA Echam 1Gamma','e':'HIRHAM BCM 205190','f':'HadCM HadRM 205190','g':'RCA Echam 205190'}[datum.label]"}}
    }},
   {"mark": {"type": "point", "opacity": 0},
    "encoding": {
     "x": {"field": "d", "type": "quantitative", "axis": {"orient": "top", "title": null, "labels": false, "domain": false, "labelPadding": 0, "values": [1,8.75,16.5,24.25,32,39,46,53,60,67.75,75.5,83.25,91,98.5,106,113.5,121,128.75,136.5,144.25,152,159.5,167,174.5,182,189.75,197.5,205.25,213,220.75,228.5,236.25,244,251.5,259,266.5,274,281.75,289.5,297.25,305,312.5,320,327.5,335,342.75,350.5,358.25], "tickSize": {"condition": {"test": "indexof([1,32,60,91,121,152,182,213,244,274,305,335], datum.value) >= 0", "value": -5}, "value": -3}}},
     "y": {"field": "v", "type": "quantitative", "axis": {"orient": "right", "title": null, "labels": false, "domain": false, "labelPadding": 0, "values": [0,5,10,15,20,25,30,35,40], "tickSize": -5}}
    }}
  ],
  "resolve": {"axis": {"x": "independent", "y": "independent"}}},
 {"width": 373, "height": 246, "title": "Mean discharges in Loimijoki", "data": {"name": "M"},
  "layer": [
   {"mark": {"type": "line", "strokeJoin": "round"},
    "encoding": {
     "x": {"field": "d", "type": "quantitative", "scale": {"domain": [1, 365], "nice": false, "zero": false}, "axis": {"title": null, "values": [1,8.75,16.5,24.25,32,39,46,53,60,67.75,75.5,83.25,91,98.5,106,113.5,121,128.75,136.5,144.25,152,159.5,167,174.5,182,189.75,197.5,205.25,213,220.75,228.5,236.25,244,251.5,259,266.5,274,281.75,289.5,297.25,305,312.5,320,327.5,335,342.75,350.5,358.25], "labelExpr": "{'1':'Jan','32':'Feb','60':'Mar','91':'Apr','121':'May','152':'Jun','182':'Jul','213':'Aug','244':'Sep','274':'Oct','305':'Nov','335':'Dec'}[datum.value] || ''", "labelPadding": 14, "tickSize": {"condition": {"test": "indexof([1,32,60,91,121,152,182,213,244,274,305,335], datum.value) >= 0", "value": -5}, "value": -3}}},
     "y": {"field": "v", "type": "quantitative", "scale": {"domain": [0, 140], "nice": false}, "axis": {"title": "Discharge [m³/s]", "values": [0,20,40,60,80,100,120,140], "tickSize": -5, "labelPadding": 14}},
     "color": {"field": "s", "type": "nominal", "scale": {"domain": ["a","b","c","d","e","f","g"], "range": ["#0000ff","#ff0000","#ffa500","#00ff00","#ff0000","#ffa500","#00ff00"]}, "legend": {"legendX": 345, "legendY": 6, "labelExpr": "{'a':'Control simulation','b':'HIRHAM BCM 1Gamma','c':'HadCM HadRM 1Gamma','d':'RCA Echam 1Gamma','e':'HIRHAM BCM 205190','f':'HadCM HadRM 205190','g':'RCA Echam 205190'}[datum.label]"}},
     "strokeDash": {"field": "s", "type": "nominal", "scale": {"domain": ["a","b","c","d","e","f","g"], "range": [[1,0],[1,0],[1,0],[1,0],[10,9],[10,9],[10,9]]}, "legend": {"legendX": 345, "legendY": 6, "labelExpr": "{'a':'Control simulation','b':'HIRHAM BCM 1Gamma','c':'HadCM HadRM 1Gamma','d':'RCA Echam 1Gamma','e':'HIRHAM BCM 205190','f':'HadCM HadRM 205190','g':'RCA Echam 205190'}[datum.label]"}},
     "strokeWidth": {"field": "s", "type": "nominal", "scale": {"type": "ordinal", "domain": ["a","b","c","d","e","f","g"], "range": [5,2.5,2.5,2.5,2.5,2.5,2.5]}, "legend": {"legendX": 345, "legendY": 6, "labelExpr": "{'a':'Control simulation','b':'HIRHAM BCM 1Gamma','c':'HadCM HadRM 1Gamma','d':'RCA Echam 1Gamma','e':'HIRHAM BCM 205190','f':'HadCM HadRM 205190','g':'RCA Echam 205190'}[datum.label]"}}
    }},
   {"mark": {"type": "point", "opacity": 0},
    "encoding": {
     "x": {"field": "d", "type": "quantitative", "axis": {"orient": "top", "title": null, "labels": false, "domain": false, "labelPadding": 0, "values": [1,8.75,16.5,24.25,32,39,46,53,60,67.75,75.5,83.25,91,98.5,106,113.5,121,128.75,136.5,144.25,152,159.5,167,174.5,182,189.75,197.5,205.25,213,220.75,228.5,236.25,244,251.5,259,266.5,274,281.75,289.5,297.25,305,312.5,320,327.5,335,342.75,350.5,358.25], "tickSize": {"condition": {"test": "indexof([1,32,60,91,121,152,182,213,244,274,305,335], datum.value) >= 0", "value": -5}, "value": -3}}},
     "y": {"field": "v", "type": "quantitative", "axis": {"orient": "right", "title": null, "labels": false, "domain": false, "labelPadding": 0, "values": [0,20,40,60,80,100,120,140], "tickSize": -5}}
    }}
  ],
  "resolve": {"axis": {"x": "independent", "y": "independent"}}}
]
}
